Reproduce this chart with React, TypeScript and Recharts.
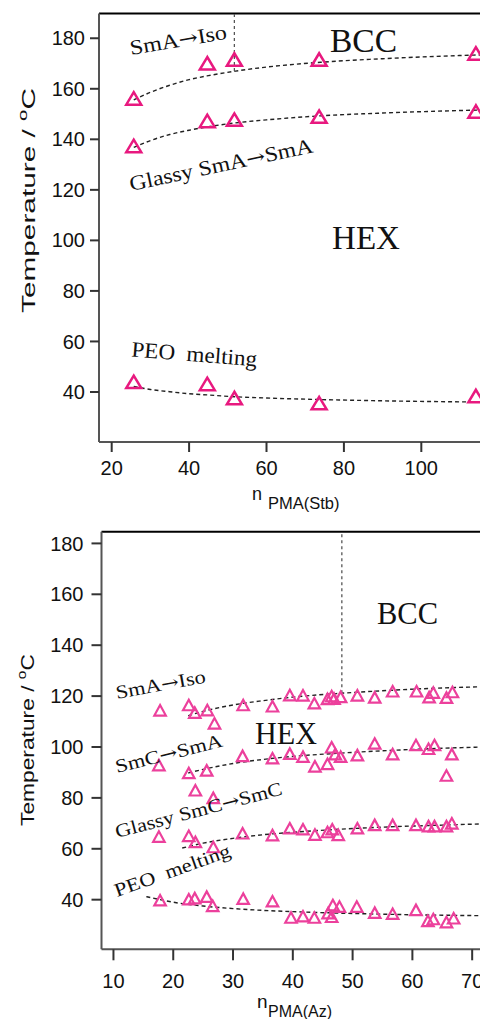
import React from "react";
import { ComposedChart, XAxis, YAxis, Line, Scatter, ReferenceLine } from "recharts";

// ---- top panel: n PMA(Stb) ----
const stbN = [25.7, 44.7, 51.7, 73.6, 114.1];
const stbIso = [156.2, 170.1, 171.6, 171.6, 174.0];
const stbGlassy = [137.4, 147.3, 147.8, 149.0, 151.0];
const stbPeo = [44.0, 43.2, 37.6, 35.6, 38.4];

// dashed guide curves
const stbFitN = [25.7, 30, 35, 40, 45, 52, 60, 74, 90, 115, 126];
const stbIsoFit = [155.6, 158.6, 161.4, 163.6, 165.2, 167.0, 168.6, 170.5, 171.9, 173.4, 173.8];
const stbGlassyFit = [136.8, 139.5, 141.9, 143.6, 145.0, 146.5, 147.7, 149.3, 150.4, 151.6, 152.0];
const stbPeoFit = [42.2, 41.0, 40.1, 39.3, 38.8, 38.1, 37.6, 37.0, 36.5, 36.0, 35.8];
const stbBccN = [51.7, 51.7];
const stbBccT = [167.0, 189.8];

const stbXTicks = [20, 40, 60, 80, 100];
const tempTicks = [40, 60, 80, 100, 120, 140, 160, 180];

// ---- bottom panel: n PMA(Az) ----
const azIsoN = [17.8, 22.6, 23.6, 25.7, 26.9, 31.7, 36.6, 39.5, 41.7, 43.6, 45.8, 46.5, 46.9, 48.0, 50.8, 53.7, 56.7, 60.7, 62.8, 63.5, 65.7, 66.7];
const azIso = [114.4, 116.5, 113.5, 114.5, 109.3, 116.5, 116.0, 120.4, 120.3, 117.2, 118.9, 120.0, 119.0, 119.7, 120.3, 119.5, 121.9, 121.9, 119.6, 121.4, 119.4, 121.6];
const azSmcN = [17.6, 22.6, 23.7, 25.6, 26.7, 31.6, 36.6, 39.5, 41.7, 43.7, 45.8, 46.5, 47.1, 48.0, 50.8, 53.7, 56.7, 60.6, 62.7, 63.7, 65.7, 66.6];
const azSmc = [92.9, 89.8, 83.0, 90.8, 80.0, 96.5, 95.6, 97.4, 96.2, 92.4, 93.4, 99.9, 97.2, 96.2, 96.8, 101.4, 97.2, 100.8, 99.3, 100.8, 88.8, 97.2];
const azGlassyN = [17.6, 22.6, 23.7, 26.7, 31.6, 36.6, 39.5, 41.7, 43.7, 45.8, 46.6, 47.6, 50.8, 53.7, 56.7, 60.6, 62.7, 63.7, 65.7, 66.6];
const azGlassy = [64.8, 65.1, 62.7, 60.7, 66.1, 65.4, 68.1, 67.7, 65.6, 66.6, 67.7, 65.5, 68.1, 69.4, 69.4, 69.4, 68.9, 68.9, 68.9, 70.0];
const azPeoN = [17.8, 22.6, 23.6, 25.6, 26.6, 31.7, 36.6, 39.7, 41.7, 43.6, 45.9, 46.5, 46.7, 47.8, 50.7, 53.7, 56.7, 60.6, 62.6, 63.5, 65.7, 66.9];
const azPeo = [39.8, 40.2, 40.6, 41.2, 37.6, 40.4, 39.4, 33.0, 33.5, 33.0, 34.7, 33.3, 37.9, 37.3, 37.3, 34.9, 34.5, 36.0, 31.7, 32.4, 31.2, 32.7];

const azFitN = [22.5, 25, 30, 35, 40, 48, 55, 65, 72, 78];
const azIsoFit = [112.3, 114.0, 116.5, 118.2, 119.6, 121.1, 122.1, 123.2, 123.7, 124.1];
const azSmcFit = [89.8, 91.2, 93.5, 95.1, 96.3, 97.6, 98.5, 99.5, 100.0, 100.3];
const azGlassyFitN = [21.5, 25, 30, 35, 40, 48, 55, 65, 72, 78];
const azGlassyFit = [60.3, 62.2, 64.1, 65.5, 66.5, 67.7, 68.5, 69.3, 69.8, 70.1];
const azPeoFitN = [15.5, 18, 20, 25, 30, 35, 40, 48, 55, 65, 72, 78];
const azPeoFit = [41.2, 39.9, 39.0, 37.5, 36.5, 35.8, 35.3, 34.7, 34.3, 33.9, 33.7, 33.5];
const azBccN = [48.2, 48.2];
const azBccT = [121.1, 184.6];

const azXTicks = [10, 20, 30, 40, 50, 60, 70];

const pts = (xs: number[], ys: number[]) => xs.map((x, i) => ({ x, y: ys[i] }));

const SANS = "'Liberation Sans', Arial, sans-serif";
const SERIF = "'Liberation Serif', 'Times New Roman', serif";

const tri = (w: number, h: number, color: string, sw: number) => (p: any) => {
	const { cx, cy } = p;
	if (cx == null || cy == null) return <g />;
	return (
		<polygon
			points={`${cx},${cy - h / 2} ${cx - w / 2},${cy + h / 2} ${cx + w / 2},${cy + h / 2}`}
			fill="none"
			stroke={color}
			strokeWidth={sw}
		/>
	);
};

interface PanelProps {
	top: number;
	height: number;
	margin: { top: number; right: number; bottom: number; left: number };
	yAxisWidth: number;
	xDomain: [number, number];
	yDomain: [number, number];
	xTicks: number[];
	xTickSize: number;
	xTickMargin: number;
	yTickSize: number;
	yTickMargin: number;
	series: { x: number; y: number }[][];
	fits: { x: number; y: number }[][];
	boundary: { x: number; y: number }[];
	color: string;
	shape: (p: any) => React.ReactElement;
}

function PhasePanel(props: PanelProps) {
	const tickStyle = { fill: "#111", fontSize: 20, fontFamily: SANS };
	return (
		<div style={{ position: "absolute", left: 0, top: props.top }}>
			<ComposedChart width={520} height={props.height} margin={props.margin}>
				<XAxis
					type="number"
					dataKey="x"
					domain={props.xDomain}
					allowDataOverflow
					ticks={props.xTicks}
					interval={0}
					height={40}
					tick={tickStyle}
					tickSize={props.xTickSize}
					tickMargin={props.xTickMargin}
					axisLine={{ stroke: "#555", strokeWidth: 2 }}
					tickLine={{ stroke: "#333", strokeWidth: 2 }}
				/>
				<YAxis
					type="number"
					dataKey="y"
					domain={props.yDomain}
					allowDataOverflow
					ticks={tempTicks}
					interval={0}
					width={props.yAxisWidth}
					tick={tickStyle}
					tickSize={props.yTickSize}
					tickMargin={props.yTickMargin}
					axisLine={{ stroke: "#555", strokeWidth: 2 }}
					tickLine={{ stroke: "#333", strokeWidth: 2 }}
				/>
				<ReferenceLine y={props.yDomain[1]} stroke="#000" strokeWidth={2} />
				{props.fits.map((d, i) => (
					<Line
						key={"f" + i}
						data={d}
						dataKey="y"
						type="monotone"
						stroke="#222"
						strokeWidth={1.4}
						strokeDasharray="4 3"
						dot={false}
						activeDot={false}
						isAnimationActive={false}
					/>
				))}
				<Line
					data={props.boundary}
					dataKey="y"
					type="linear"
					stroke="#555"
					strokeWidth={1.3}
					strokeDasharray="3 3"
					dot={false}
					activeDot={false}
					isAnimationActive={false}
				/>
				{props.series.map((d, i) => (
					<Scatter
						key={"s" + i}
						data={d}
						dataKey="y"
						fill={props.color}
						shape={props.shape}
						isAnimationActive={false}
					/>
				))}
			</ComposedChart>
		</div>
	);
}

// region labels; "to" marks a transition arrow between pre and post
const notes = [
	{ pre: "BCC", x: 330, y: 51.7, a: 0, s: 34, len: 67 },
	{ pre: "HEX", x: 332, y: 249, a: 0, s: 34, len: 68 },
	{ pre: "SmA", post: "Iso", x: 131, y: 55, a: -9.5, s: 21, len: 98 },
	{ pre: "Glassy SmA", post: "SmA", x: 131, y: 191, a: -12, s: 21, len: 187 },
	{ pre: "PEO\u00a0 melting", x: 131, y: 356.5, a: 4.5, s: 22, len: 126 },
	{ pre: "BCC", x: 377, y: 624, a: 0, s: 31, len: 61 },
	{ pre: "HEX", x: 255, y: 744, a: 0, s: 31, len: 62 },
	{ pre: "SmA", post: "Iso", x: 117, y: 699, a: -10.5, s: 19, len: 91 },
	{ pre: "SmC", post: "SmA", x: 117, y: 773, a: -14, s: 19, len: 110 },
	{ pre: "Glassy SmC", post: "SmC", x: 117, y: 838, a: -14.7, s: 19, len: 172 },
	{ pre: "PEO\u00a0 melting", x: 117, y: 897, a: -19.6, s: 19, len: 122 }
];

function TempTitle({ x, y, len }: { x: number; y: number; len: number }) {
	return (
		<text
			transform={`translate(${x},${y}) rotate(-90)`}
			textAnchor="middle"
			fontSize={19}
			fontFamily={SANS}
			fill="#111"
			textLength={len}
			lengthAdjust="spacingAndGlyphs"
		>
			Temperature /{" "}
			<tspan fontSize={13} dy={-8}>
				o
			</tspan>
			<tspan dy={8}>C</tspan>
		</text>
	);
}

export default function App() {
	const topColor = "#e8197f";
	const botColor = "#ec409c";
	return (
		<div
			style={{
				position: "absolute",
				left: 0,
				top: 0,
				width: 480,
				height: 1019,
				overflow: "hidden",
				background: "#fff"
			}}
		>
			<PhasePanel
				top={0}
				height={510}
				margin={{ top: 13.5, right: 0, bottom: 28, left: 0 }}
				yAxisWidth={99}
				xDomain={[16.72, 125.5]}
				yDomain={[20.2, 189.8]}
				xTicks={stbXTicks}
				xTickSize={10}
				xTickMargin={9}
				yTickSize={9}
				yTickMargin={5}
				series={[pts(stbN, stbIso), pts(stbN, stbGlassy), pts(stbN, stbPeo)]}
				fits={[pts(stbFitN, stbIsoFit), pts(stbFitN, stbGlassyFit), pts(stbFitN, stbPeoFit)]}
				boundary={pts(stbBccN, stbBccT)}
				color={topColor}
				shape={tri(15, 12.5, topColor, 2.5)}
			/>
			<PhasePanel
				top={500}
				height={519}
				margin={{ top: 31.7, right: 0, bottom: 29.7, left: 0 }}
				yAxisWidth={101.5}
				xDomain={[8, 78]}
				yDomain={[20.5, 184.6]}
				xTicks={azXTicks}
				xTickSize={11}
				xTickMargin={13}
				yTickSize={10}
				yTickMargin={8}
				series={[pts(azIsoN, azIso), pts(azSmcN, azSmc), pts(azGlassyN, azGlassy), pts(azPeoN, azPeo)]}
				fits={[
					pts(azFitN, azIsoFit),
					pts(azFitN, azSmcFit),
					pts(azGlassyFitN, azGlassyFit),
					pts(azPeoFitN, azPeoFit)
				]}
				boundary={pts(azBccN, azBccT)}
				color={botColor}
				shape={tri(11.5, 10.5, botColor, 2.2)}
			/>
			<svg
				width={480}
				height={1019}
				style={{ position: "absolute", left: 0, top: 0, pointerEvents: "none" }}
			>
				{notes.map((n, i) => (
					<text
						key={i}
						x={0}
						y={0}
						transform={`translate(${n.x},${n.y}) rotate(${n.a})`}
						fontFamily={SERIF}
						fontSize={n.s}
						fill="#111"
						textLength={n.len}
						lengthAdjust="spacingAndGlyphs"
					>
						{n.pre}
						{n.post ? (
							<tspan fontFamily="'DejaVu Serif', serif" fontSize={n.s * 0.95}>
								{"\u2192"}
							</tspan>
						) : null}
						{n.post ?? null}
					</text>
				))}
				<TempTitle x={35} y={200.5} len={225} />
				<TempTitle x={33.5} y={740} len={172} />
				<text x={252} y={499.5} fontFamily={SANS} fontSize={18} fill="#111">
					n
				</text>
				<text x={268} y={508.5} fontFamily={SANS} fontSize={16.5} fill="#111">
					PMA(Stb)
				</text>
				<text x={257} y={1008} fontFamily={SANS} fontSize={19} fill="#111">
					n
				</text>
				<text x={268} y={1016.5} fontFamily={SANS} fontSize={16} fill="#111">
					PMA(Az)
				</text>
			</svg>
		</div>
	);
}
